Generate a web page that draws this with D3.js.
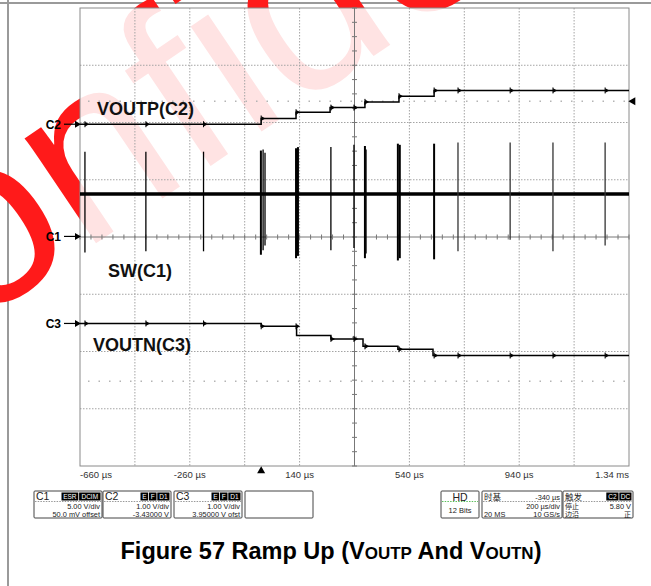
<!DOCTYPE html>
<html><head><meta charset="utf-8">
<script src="https://cdn.jsdelivr.net/npm/d3@7"></script>
<style>
body{margin:0;background:#fff;}
svg{display:block;font-family:Arial,"Liberation Sans",sans-serif;}
</style>
</head><body>
<svg id="c" width="651" height="586"></svg>
<script>
// ---------------- data ----------------
const timeTicks = [-660, -260, 140, 540, 940, 1340];           // µs
const timeTickLabels = ["-660 µs", "-260 µs", "140 µs", "540 µs", "940 µs", "1.34 ms"];
const voutpStepTimes = [0, 127, 251, 378, 502, 630];            // µs
const voutpLevels = [5.40, 5.50, 5.61, 5.69, 5.79, 5.89, 5.99]; // V
const voutnStepTimes = [0, 129, 254, 371, 498, 626];            // µs
const voutnLevels = [-5.46, -5.51, -5.67, -5.73, -5.86, -5.91, -6.02]; // V
const swBase = 3.7;                                              // V
const swSpikeTimes = [-642, -420, -210, -1, 7, 14, 127, 134, 254, 338, 378, 382, 498, 505, 630, 717, 907, 1063, 1253];
const swSpikeHigh  = [7.4, 7.4, 7.4, 7.5, 7.6, 7.3, 7.7, 7.8, 7.8, 8.0, 7.9, 7.6, 8.1, 8.0, 8.1, 8.2, 8.2, 8.2, 8.2];
const swSpikeLow   = [-1.4, -1.3, -1.3, -1.6, -1.2, -0.8, -1.9, -1.7, -1.2, -1.0, -1.9, -1.5, -2.1, -1.9, -2.0, -1.3, -0.3, -1.3, -0.8];
const glitchTimes  = [-642, -420, -210, 0, 127, 254, 338, 378, 502, 630, 717, 907, 1063, 1253];
const triggerLevel = 5.80;   // V (C2)
const c3RefLevel = -6.47;    // V (C3) faint dotted row
const channelNames = ["C1", "C2", "C3"];
const channelVdiv = [5, 1, 1];
const channelOffset = [0.05, -3.43, 3.95];
const channelMarkerLevel = [0, 5.40, -5.46];
const traceLabels = ["SW(C1)", "VOUTP(C2)", "VOUTN(C3)"];

// info panel texts
const chanBoxHeads = ["C1", "C2", "C3", ""];
const chanBoxTags = [["ESR", "DCIM"], ["E", "F", "D1"], ["E", "F", "D1"], []];
const chanBoxLine1 = ["5.00 V/div", "1.00 V/div", "1.00 V/div", ""];
const chanBoxLine2 = ["50.0 mV offset", "-3.43000 V", "3.95000 V ofst", ""];
const timebase = {head: "时基", delay: "-340 µs", scale: "200 µs/div", mem: "20 MS", rate: "10 GS/s"};
const trigger = {head: "触发", tags: ["C2", "DC"], mode: "停止", level: "5.80 V", type: "边沿", slope: "正"};
const acq = {head: "HD", bits: "12 Bits"};
const titleParts = ["Figure 57 Ramp Up (V", "OUTP", " And V", "OUTN", ")"];
const watermark = "Confidential";

// ---------------- layout ----------------
const svg = d3.select("#c");
const P = {l: 80, r: 629, t: 8, b: 466};
const x = d3.scaleLinear().domain([timeTicks[0], timeTicks[timeTicks.length - 1]]).range([P.l, P.r]);
const yCh = channelVdiv.map((vd, i) => {
  const c = -channelOffset[i];
  return d3.scaleLinear().domain([c - 4 * vd, c + 4 * vd]).range([P.b, P.t]);
});
const div = d3.scaleLinear().domain([0, 8]).range([P.b, P.t]);
const hdiv = d3.scaleLinear().domain([0, 10]).range([P.l, P.r]);

// page frame
svg.append("line").attr("x1", 0).attr("x2", 651).attr("y1", 3).attr("y2", 3).attr("stroke", "#9a9a9a").attr("stroke-width", 2);
svg.append("line").attr("x1", 8).attr("x2", 8).attr("y1", 0).attr("y2", 586).attr("stroke", "#9a9a9a").attr("stroke-width", 2);

// watermark
svg.append("text").text(watermark)
  .attr("transform", "translate(-172,424) rotate(-34)")
  .attr("font-size", 240).attr("fill", "#ff1a1a");

// plot veil (watermark fainter inside plot)
svg.append("rect").attr("x", P.l).attr("y", P.t).attr("width", P.r - P.l).attr("height", P.b - P.t)
  .attr("fill", "#fff").attr("opacity", 0.88);
// keep lower panel area clean
svg.append("rect").attr("x", 9).attr("y", P.b + 1).attr("width", 642).attr("height", 586 - P.b).attr("fill", "#fff");

// grid
const g = svg.append("g");
d3.range(1, 10).filter(i => i !== 5).forEach(i => {
  g.append("line").attr("x1", hdiv(i)).attr("x2", hdiv(i)).attr("y1", P.t).attr("y2", P.b)
    .attr("stroke", "#a4a4a4").attr("stroke-width", 1).attr("stroke-dasharray", "1.5,1.5");
});
d3.range(1, 8).filter(i => i !== 4).forEach(i => {
  g.append("line").attr("x1", P.l).attr("x2", P.r).attr("y1", div(i)).attr("y2", div(i))
    .attr("stroke", "#a4a4a4").attr("stroke-width", 1).attr("stroke-dasharray", "1.5,1.5");
});
// border
g.append("rect").attr("x", P.l).attr("y", P.t).attr("width", P.r - P.l).attr("height", P.b - P.t)
  .attr("fill", "none").attr("stroke", "#8a8a8a").attr("stroke-width", 1);
// center axes with minor ticks
g.append("line").attr("x1", hdiv(5)).attr("x2", hdiv(5)).attr("y1", P.t).attr("y2", P.b).attr("stroke", "#777");
g.append("line").attr("x1", P.l).attr("x2", P.r).attr("y1", div(4)).attr("y2", div(4)).attr("stroke", "#777");
d3.range(0, 8.001, 0.25).forEach(v => {
  g.append("line").attr("x1", hdiv(5) - 2.5).attr("x2", hdiv(5) + 2.5).attr("y1", div(v)).attr("y2", div(v)).attr("stroke", "#777");
});
d3.range(0, 10.001, 0.2).forEach(v => {
  g.append("line").attr("y1", div(4) - 2.5).attr("y2", div(4) + 2.5).attr("x1", hdiv(v)).attr("x2", hdiv(v)).attr("stroke", "#777");
});

// faint dotted reference rows
[[1, triggerLevel], [2, c3RefLevel]].forEach(([ch, v]) => {
  g.append("line").attr("x1", P.l + 8).attr("x2", P.r).attr("y1", yCh[ch](v)).attr("y2", yCh[ch](v))
    .attr("stroke", "#b4b4b4").attr("stroke-width", 1.6).attr("stroke-dasharray", "1.5,9");
});

// ---- traces ----
function stepPoints(times, levels) {
  const pts = [[x.domain()[0], levels[0]]];
  times.forEach((t, i) => pts.push([t, levels[i + 1]]));
  pts.push([x.domain()[1], levels[levels.length - 1]]);
  return pts;
}
function levelAt(times, levels, t) {
  let k = 0;
  times.forEach((tt, i) => { if (t >= tt) k = i + 1; });
  return levels[k];
}

// SW (C1)
const tr = svg.append("g");
tr.append("line").attr("x1", P.l).attr("x2", P.r).attr("y1", yCh[0](swBase)).attr("y2", yCh[0](swBase))
  .attr("stroke", "#000").attr("stroke-width", 3.4);
swSpikeTimes.forEach((t, i) => {
  const big = Math.abs(swSpikeLow[i]) > 1.5;
  tr.append("line").attr("x1", x(t)).attr("x2", x(t)).attr("y1", yCh[0](swSpikeHigh[i])).attr("y2", yCh[0](swSpikeLow[i]))
    .attr("stroke", t > 700 ? "#333" : "#000").attr("stroke-width", big ? 2 : 1.3);
});

// VOUTP (C2) and VOUTN (C3)
[[1, voutpStepTimes, voutpLevels], [2, voutnStepTimes, voutnLevels]].forEach(([ch, times, levels]) => {
  const y = yCh[ch];
  const line = d3.line().x(d => x(d[0])).y(d => y(d[1])).curve(d3.curveStepAfter);
  tr.append("path").attr("d", line(stepPoints(times, levels))).attr("fill", "none")
    .attr("stroke", "#000").attr("stroke-width", 1.5);
  glitchTimes.forEach(t => {
    const v = levelAt(times, levels, t + 1);
    tr.append("line").attr("x1", x(t)).attr("x2", x(t)).attr("y1", y(v) - 3).attr("y2", y(v) + 3)
      .attr("stroke", "#000").attr("stroke-width", 1);
    tr.append("path").attr("d", d3.symbol(d3.symbolTriangle, 9)())
      .attr("transform", `translate(${x(t) + 1.5},${y(v)}) rotate(90)`).attr("fill", "#000");
  });
});

// channel markers at left
channelNames.forEach((n, i) => {
  const yy = yCh[i](channelMarkerLevel[i]);
  svg.append("text").text(n).attr("x", 61).attr("y", yy + 4.5).attr("text-anchor", "end")
    .attr("font-size", 12).attr("font-weight", "bold");
  svg.append("line").attr("x1", 64).attr("x2", 75).attr("y1", yy).attr("y2", yy).attr("stroke", "#000").attr("stroke-width", 1.2);
  svg.append("path").attr("d", `M75,${yy - 3.5}L81,${yy}L75,${yy + 3.5}Z`).attr("fill", "#000");
});

// trace labels
const labelPos = [[108, 277], [97, 115], [93, 351]];
traceLabels.forEach((t, i) => {
  svg.append("text").text(t).attr("x", labelPos[i][0]).attr("y", labelPos[i][1])
    .attr("font-size", 18).attr("font-weight", "bold").attr("fill", "#111");
});

// trigger markers
svg.append("path").attr("d", d3.symbol(d3.symbolTriangle, 28)()).attr("transform", `translate(${x(0)},471)`).attr("fill", "#000");
svg.append("path").attr("d", d3.symbol(d3.symbolTriangle, 28)())
  .attr("transform", `translate(633,${yCh[1](triggerLevel)}) rotate(-90)`).attr("fill", "#000");

// time axis labels
timeTicks.forEach((t, i) => {
  svg.append("text").text(timeTickLabels[i]).attr("x", x(t)).attr("y", 478)
    .attr("text-anchor", i === 0 ? "start" : (i === timeTicks.length - 1 ? "end" : "middle"))
    .attr("font-size", 9.5).attr("fill", "#333");
});

// ---- info panel ----
const ip = svg.append("g").attr("font-size", 7.4).attr("fill", "#222");
const boxTop = 491, boxH = 27;
const cjk = "'Noto Sans CJK SC'";
function box(x0, w) {
  ip.append("rect").attr("x", x0).attr("y", boxTop).attr("width", w).attr("height", boxH)
    .attr("fill", "#fff").attr("stroke", "#444").attr("stroke-width", 1).attr("rx", 1);
}
function sep(x0, w, color) {
  ip.append("line").attr("x1", x0 + 1).attr("x2", x0 + w - 1).attr("y1", boxTop + 10.5).attr("y2", boxTop + 10.5)
    .attr("stroke", color || "#999").attr("stroke-dasharray", "1.5,1.2");
}
function tags(list, xr) {
  let xx = xr;
  list.slice().reverse().forEach(tg => {
    const w = tg.length * 4.6 + 3;
    xx -= w;
    ip.append("rect").attr("x", xx).attr("y", boxTop + 1.5).attr("width", w).attr("height", 8).attr("fill", "#000");
    ip.append("text").text(tg).attr("x", xx + w / 2).attr("y", boxTop + 8.3).attr("text-anchor", "middle")
      .attr("fill", "#fff").attr("font-size", 6.5);
    xx -= 0.8;
  });
}
const chanBoxX = [34, 103, 174, 245], chanBoxW = 68;
chanBoxHeads.forEach((h, i) => {
  const x0 = chanBoxX[i];
  box(x0, chanBoxW);
  if (!h) return;
  sep(x0, chanBoxW);
  ip.append("text").text(h).attr("x", x0 + 2).attr("y", boxTop + 9).attr("font-size", 10.5).attr("fill", "#222");
  tags(chanBoxTags[i], x0 + chanBoxW - 1.5);
  ip.append("text").text(chanBoxLine1[i]).attr("x", x0 + chanBoxW - 2).attr("y", boxTop + 18).attr("text-anchor", "end");
  ip.append("text").text(chanBoxLine2[i]).attr("x", x0 + chanBoxW - 2).attr("y", boxTop + 25.5).attr("text-anchor", "end");
});
// acquisition box
box(441, 38); sep(441, 38, "#5cbf5c");
ip.append("text").text(acq.head).attr("x", 460).attr("y", boxTop + 9.5).attr("text-anchor", "middle").attr("font-size", 10.5);
ip.append("text").text(acq.bits).attr("x", 460).attr("y", boxTop + 22).attr("text-anchor", "middle").attr("font-size", 7.5);
// timebase box
box(482, 80); sep(482, 80);
ip.append("text").text(timebase.head).attr("x", 484).attr("y", boxTop + 8.5).attr("font-size", 8.5).attr("font-family", cjk);
ip.append("text").text(timebase.delay).attr("x", 560).attr("y", boxTop + 9).attr("text-anchor", "end");
ip.append("text").text(timebase.scale).attr("x", 560).attr("y", boxTop + 18).attr("text-anchor", "end");
ip.append("text").text(timebase.mem).attr("x", 484).attr("y", boxTop + 25.5);
ip.append("text").text(timebase.rate).attr("x", 560).attr("y", boxTop + 25.5).attr("text-anchor", "end");
// trigger box
box(563, 70); sep(563, 70);
ip.append("text").text(trigger.head).attr("x", 565).attr("y", boxTop + 8.5).attr("font-size", 8.5).attr("font-family", cjk);
tags(trigger.tags, 631.5);
ip.append("text").text(trigger.mode).attr("x", 565).attr("y", boxTop + 18).attr("font-size", 7).attr("font-family", cjk);
ip.append("text").text(trigger.level).attr("x", 631).attr("y", boxTop + 18).attr("text-anchor", "end");
ip.append("text").text(trigger.type).attr("x", 565).attr("y", boxTop + 26).attr("font-size", 7).attr("font-family", cjk);
ip.append("text").text(trigger.slope).attr("x", 631).attr("y", boxTop + 26).attr("text-anchor", "end").attr("font-size", 7).attr("font-family", cjk);

// ---- title ----
const title = svg.append("text").attr("x", 331).attr("y", 559).attr("text-anchor", "middle")
  .attr("font-weight", "bold").attr("fill", "#000");
titleParts.forEach((p, i) => {
  title.append("tspan").text(p).attr("font-size", i % 2 === 1 ? 17 : 23.5);
});
</script>
</body></html>
